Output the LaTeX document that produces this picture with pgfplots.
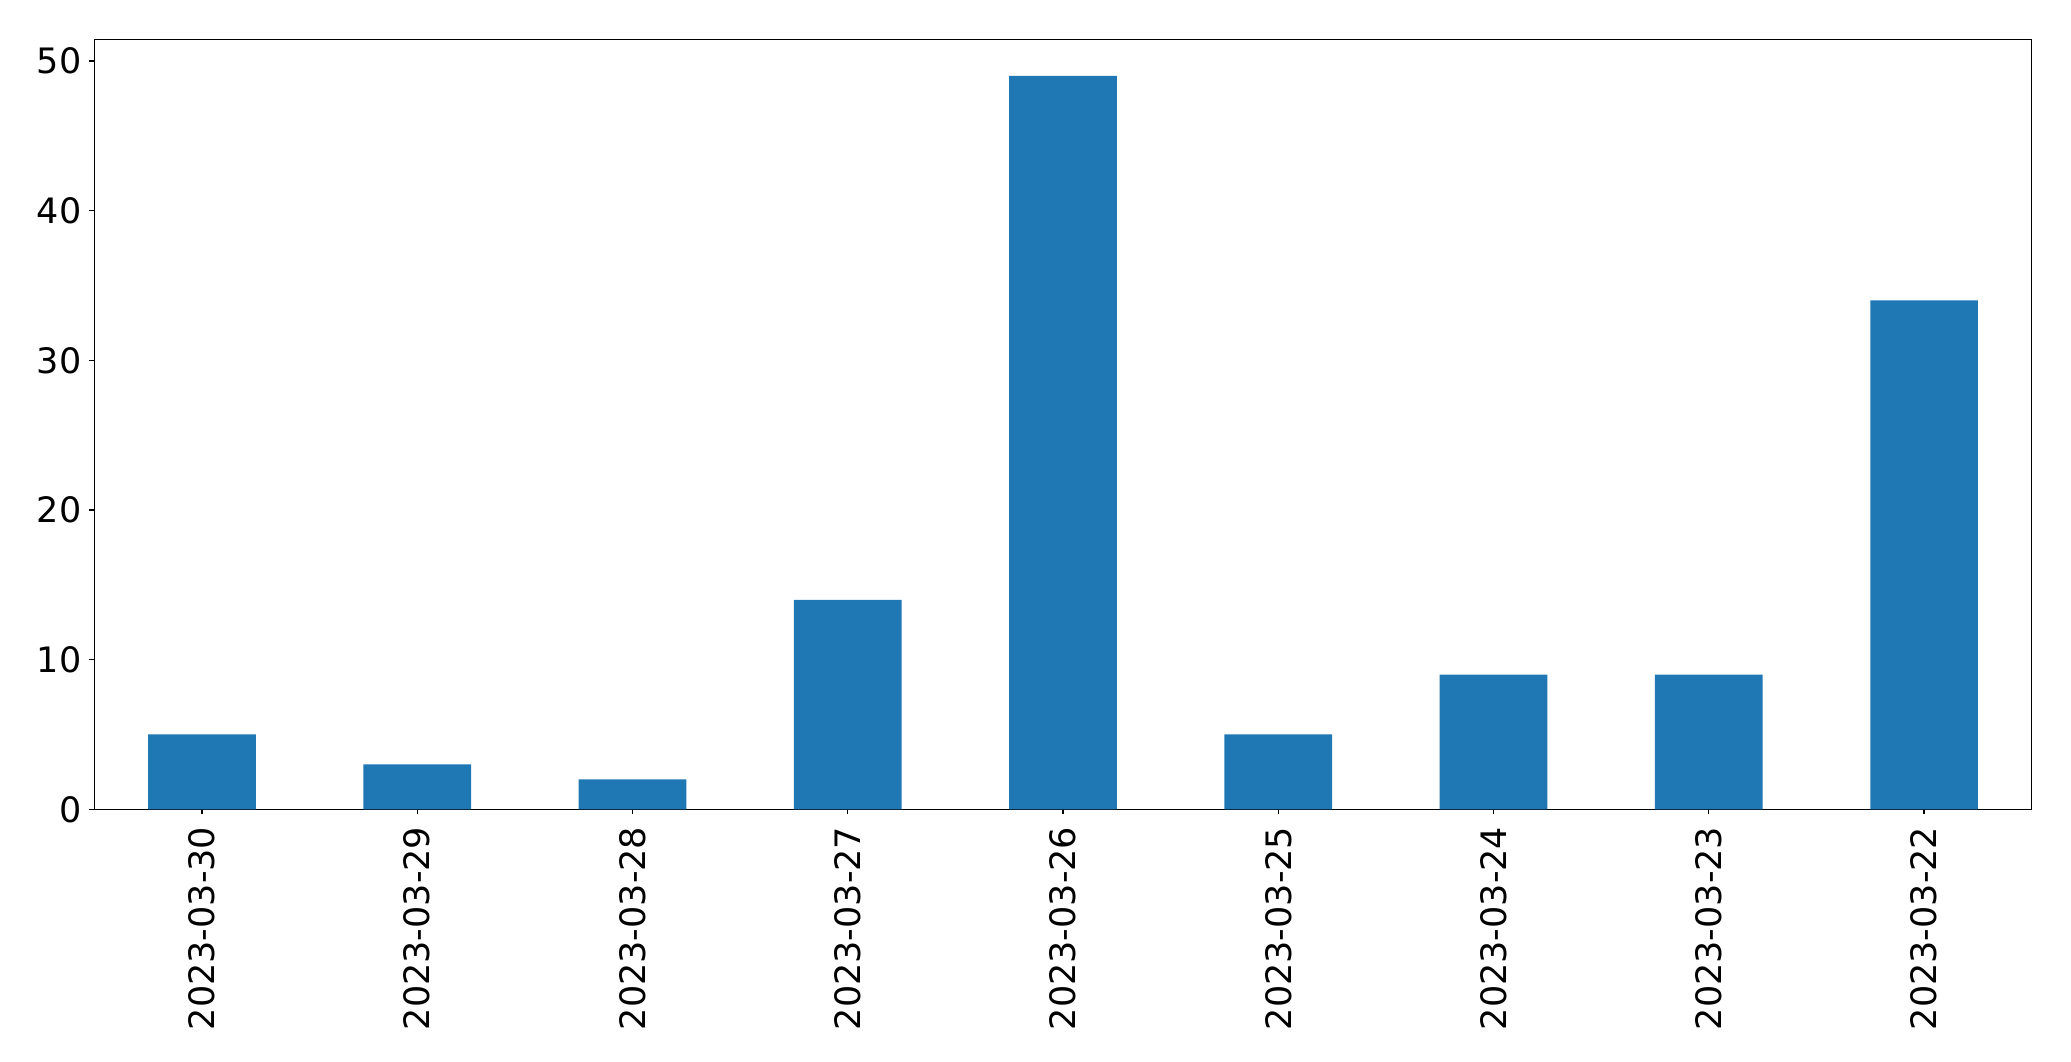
\documentclass[border=0pt]{standalone}
\usepackage{pgfplots}
\pgfplotsset{compat=1.18}
\usepackage{fontspec}
\setmainfont{DejaVu Sans}
\definecolor{mplblue}{HTML}{1F77B4}
\begin{document}
\begin{tikzpicture}
\useasboundingbox (0,0) rectangle (1035.5pt,530.5pt);
\begin{axis}[
  at={(47.15pt,125.85pt)}, anchor=south west,
  width=968.7pt, height=385pt, scale only axis,
  xmin=-0.5, xmax=8.5, ymin=0, ymax=51.45,
  axis line style={line width=0.6pt},
  tick style={line width=0.6pt, black},
  tick align=outside, major tick length=2.5pt,
  xtick={0,...,8},
  xticklabels={2023-03-30,2023-03-29,2023-03-28,2023-03-27,2023-03-26,2023-03-25,2023-03-24,2023-03-23,2023-03-22},
  ytick={0,10,20,30,40,50},
  xtick pos=bottom, ytick pos=left,
  /pgf/number format/assume math mode=true,
  ticklabel style={font=\fontsize{17.5}{17.5}\selectfont},
  xticklabel style={yshift=-6pt, rotate=90, anchor=east, inner sep=0pt},
  yticklabel style={inner sep=0pt, xshift=-3.8pt},
]
\addplot[ybar, bar width=0.5, fill=mplblue, draw=none] coordinates {
(0,5) (1,3) (2,2) (3,14) (4,49) (5,5) (6,9) (7,9) (8,34)
};
\end{axis}
\end{tikzpicture}
\end{document}
